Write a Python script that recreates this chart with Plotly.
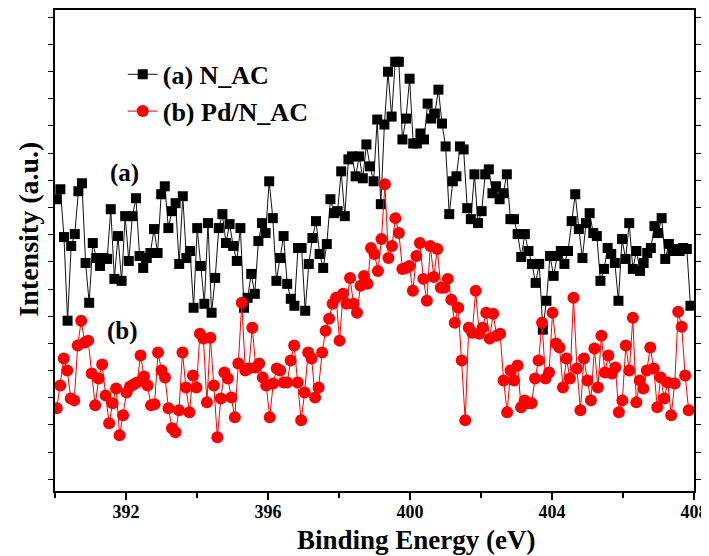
import numpy as np
import plotly.graph_objects as go

# N 1s XPS spectra, intensity in arbitrary units
n_ac = [302, 312, 264, 180, 255, 267, 310, 318, 238, 198, 258, 243, 235, 243, 242, 292, 222, 265, 220, 285,
        240, 285, 303, 245, 233, 243, 248, 272, 248,
        307, 315, 273, 290, 298, 237, 305, 243, 250, 193, 273, 235, 197, 278, 188, 223, 273, 287, 258, 277,
        255, 240, 273, 193, 203, 227, 207, 260, 278, 268,
        320, 283, 220, 243, 265, 217, 202, 195, 253, 253, 190, 237, 263, 280, 247, 233, 257, 302, 288, 290,
        330, 285, 342, 345, 325, 345, 323, 357, 335, 320,
        382, 297, 377, 430, 385, 440, 440, 362, 383, 423, 358, 358, 368, 362, 398, 383, 388, 412, 378, 355,
        287, 320, 325, 355, 352, 293, 282, 327, 278, 290,
        327, 332, 308, 315, 302, 308, 327, 282, 282, 267, 244, 267, 250, 237, 218, 237, 171, 200, 245, 225,
        245, 250, 237, 250, 280, 307, 272, 243, 278,
        288, 268, 265, 220, 232, 253, 247, 238, 200, 262, 242, 278, 232, 250, 230, 238, 248, 253, 275, 268,
        283, 242, 257, 250, 252, 250, 253, 252, 195]

pd_n_ac = [92, 115, 142, 130, 102, 100, 155, 180, 158, 160, 127, 95, 122, 136, 105, 77, 97, 112, 65, 85,
           108, 114, 116, 118, 145, 124, 115, 95, 96, 148, 130,
           123, 92, 72, 68, 90, 148, 113, 88, 125, 113, 167, 162, 98, 163, 115, 63, 102, 128, 122, 103,
           83, 137, 198, 130, 132, 173, 133, 137, 123, 115, 83,
           117, 132, 130, 118, 118, 140, 155, 118, 80, 108, 148, 142, 103, 113, 148, 170, 182, 197, 203, 160,
           207, 197, 223, 197, 188, 215, 225, 217, 253, 247, 230, 262,
           317, 243, 255, 283, 268, 232, 233, 235, 210, 245, 258, 222, 200, 255, 224, 252, 213, 213, 222, 201,
           178, 193, 140, 80, 173, 168, 210, 167, 173, 188,
           162, 187, 165, 167, 120, 88, 130, 120, 135, 93, 100, 97, 97, 122, 140, 178, 122, 128, 188, 157,
           153, 113, 142, 122, 203, 132, 90, 142, 120, 100, 152,
           113, 165, 128, 145, 127, 133, 88, 100, 155, 130, 183, 98, 120, 112, 130, 153, 132, 93, 123, 102,
           118, 85, 117, 189, 174, 125, 90]

energy_a = np.linspace(390.05, 407.9, len(n_ac))
energy_b = np.linspace(390.05, 407.85, len(pd_n_ac))

x_ticks = [392, 396, 400, 404, 408]
x_minor = [390, 394, 398, 402, 406]

font = "Liberation Serif"

fig = go.Figure()
fig.add_trace(go.Scatter(
    x=energy_a, y=n_ac, mode="lines+markers", name="<b>(a) N_AC</b>",
    line=dict(color="#111111", width=1),
    marker=dict(symbol="square", size=10, color="black"),
))
fig.add_trace(go.Scatter(
    x=energy_b, y=pd_n_ac, mode="lines+markers", name="<b>(b) Pd/N_AC</b>",
    line=dict(color="#ff0000", width=1),
    marker=dict(symbol="circle", size=12, color="#ff0000"),
))

fig.add_annotation(x=391.95, y=328, text="<b>(a)</b>", showarrow=False,
                   font=dict(family=font, size=25, color="black"))
fig.add_annotation(x=391.9, y=170, text="<b>(b)</b>", showarrow=False,
                   font=dict(family=font, size=25, color="black"))
fig.add_annotation(xref="paper", yref="paper", x=-0.041, y=0.545, text="<b>Intensity (a.u.)</b>",
                   textangle=-90, showarrow=False, xanchor="center", yanchor="middle",
                   font=dict(family=font, size=28, color="black"))
fig.add_annotation(xref="paper", yref="paper", x=0.565, y=-0.101, text="<b>Binding Energy (eV)</b>",
                   showarrow=False, xanchor="center", yanchor="middle",
                   font=dict(family=font, size=27, color="black"))

# the page body adds an 8 px margin, so the figure is a bit smaller than the window
fig.update_layout(
    width=701, height=548,
    margin=dict(l=47, r=15, t=0, b=65),
    plot_bgcolor="white", paper_bgcolor="white",
    font=dict(family=font, color="black"),
    showlegend=True,
    legend=dict(x=0.106, y=0.915, xanchor="left", yanchor="top",
                bgcolor="rgba(0,0,0,0)", font=dict(family=font, size=26, color="black"),
                tracegroupgap=0),
)

fig.update_xaxes(
    range=[390, 408], tickvals=x_ticks, ticktext=[f"<b>{t}</b>" for t in x_ticks],
    ticks="outside", ticklen=7, tickwidth=1.5, tickcolor="black", ticklabelstandoff=-4,
    minor=dict(tickvals=x_minor, ticks="outside", ticklen=5, tickwidth=1.5, tickcolor="black"),
    showline=True, linewidth=2, linecolor="black", mirror=True,
    showgrid=False, zeroline=False,
    tickfont=dict(family=font, size=18, color="black"),
)
fig.update_yaxes(
    range=[9, 492], tick0=20.7, dtick=27.3, showticklabels=False,
    ticks="outside", ticklen=5, tickwidth=1, tickcolor="black",
    showline=True, linewidth=2, linecolor="black", mirror="ticks",
    showgrid=False, zeroline=False,
)

fig.write_html("out.html")
